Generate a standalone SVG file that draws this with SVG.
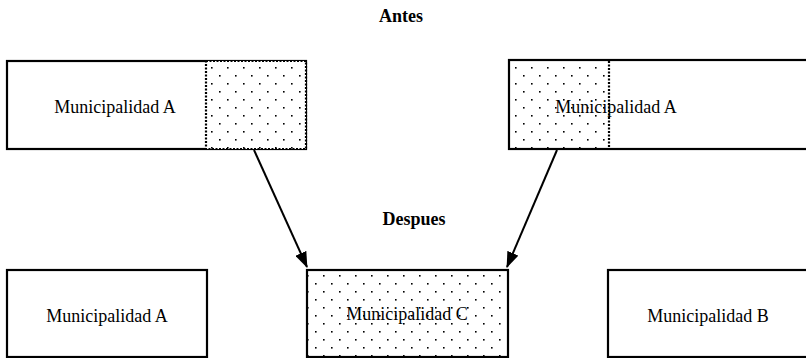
<svg xmlns="http://www.w3.org/2000/svg" width="806" height="358" viewBox="0 0 806 358">
<defs>
<pattern id="dots" x="0" y="0" width="16" height="16" patternUnits="userSpaceOnUse">
<rect x="3" y="3" width="1.6" height="1.6" fill="#000"/>
<rect x="11" y="11" width="1.6" height="1.6" fill="#000"/>
</pattern>
<marker id="arrow" markerWidth="16" markerHeight="12" refX="15" refY="6" orient="auto" markerUnits="userSpaceOnUse">
<path d="M0,0 L16,6 L0,12 Z" fill="#000"/>
</marker>
</defs>
<style>
.box{fill:#fff;stroke:#000;stroke-width:2.2}
.dotted{fill:url(#dots);stroke:#000;stroke-width:2.2;stroke-dasharray:2 1.5}
.lbl{font-family:"Liberation Serif","Times New Roman",serif;font-size:18px;fill:#000;text-anchor:middle}
.ttl{font-family:"Liberation Serif","Times New Roman",serif;font-size:18px;font-weight:bold;fill:#000;text-anchor:middle}
.conn{stroke:#000;stroke-width:2;fill:none}
</style>
<text class="ttl" x="401" y="22">Antes</text>
<text class="ttl" x="414" y="225">Despues</text>
<g id="top-left">
<rect class="box" x="7" y="61" width="299" height="88"/>
<rect x="206" y="61" width="100" height="88" fill="#fff"/>
<rect class="dotted" x="206" y="61" width="100" height="88"/>
<text class="lbl" x="115" y="113">Municipalidad A</text>
</g>
<g id="top-right">
<rect class="box" x="509" y="60" width="310" height="89"/>
<rect x="510" y="61" width="99" height="87" fill="url(#dots)"/>
<line x1="609" y1="61" x2="609" y2="148" stroke="#000" stroke-width="2.2" stroke-dasharray="2 1.5"/>
<text class="lbl" x="616" y="113">Municipalidad A</text>
</g>
<g id="bottom-left">
<rect class="box" x="7" y="270" width="200" height="87"/>
<text class="lbl" x="107" y="322">Municipalidad A</text>
</g>
<g id="bottom-center">
<rect class="box" x="307" y="270" width="201" height="87"/>
<rect x="308" y="271" width="199" height="85" fill="url(#dots)"/>
<text class="lbl" x="407" y="320">Municipalidad C</text>
</g>
<g id="bottom-right">
<rect class="box" x="608" y="270" width="210" height="87"/>
<text class="lbl" x="708" y="322">Municipalidad B</text>
</g>
<g id="connectors">
<line class="conn" x1="254" y1="150" x2="307" y2="267" marker-end="url(#arrow)"/>
<line class="conn" x1="557" y1="150" x2="507" y2="267" marker-end="url(#arrow)"/>
</g>
</svg>
